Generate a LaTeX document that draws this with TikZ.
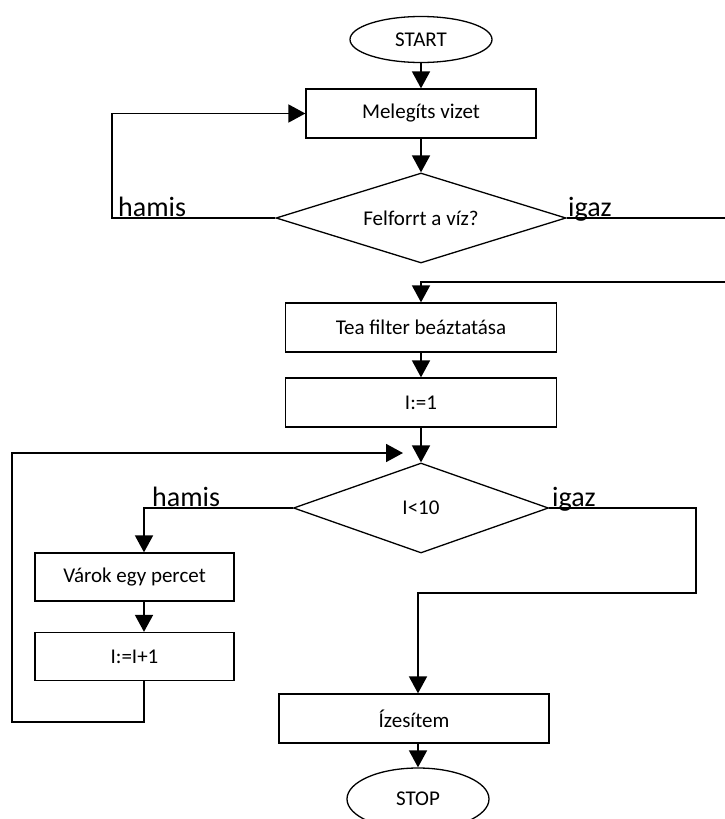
\documentclass[tikz,border=0pt]{standalone}
\usepackage{fontspec}
\setmainfont{Carlito}
\usetikzlibrary{shapes.geometric,arrows.meta}

\tikzset{
  proc/.style={draw, line width=1.3pt, rectangle, inner sep=0pt,
    font=\fontsize{21}{25}\selectfont},
  term/.style={draw, line width=1.3pt, ellipse, inner sep=0pt,
    font=\fontsize{21}{25}\selectfont},
  dec/.style={draw, line width=1.3pt, diamond, inner sep=0pt, aspect=3,
    font=\fontsize{21}{25}\selectfont},
  flow/.style={line width=1.8pt, -{Triangle[length=17pt,width=18pt]}},
  plain/.style={line width=1.8pt},
  lbl/.style={anchor=base west, inner sep=0pt, font=\fontsize{28}{32}\selectfont}
}

\begin{document}
\begin{tikzpicture}[x=1pt, y=-1pt]
  \useasboundingbox (0,0) rectangle (724,819);

  % first part: heat water until it boils
  \node[term, minimum width=142pt, minimum height=46pt] (start) at (421,39.5) {START};
  \node[proc, minimum width=230pt, minimum height=49pt] (heat) at (421,113.5) {Melegíts vizet};
  \node[dec, minimum width=290pt, minimum height=90pt] (boil) at (421,218) {Felforrt a víz?};

  % second part: steeping loop
  \node[proc, minimum width=271pt, minimum height=49pt] (tea) at (421,327.5) {Tea filter beáztatása};
  \node[proc, minimum width=271pt, minimum height=49pt] (init) at (421,402.5) {I:=1};
  \node[dec, minimum width=255pt, minimum height=90pt] (cond) at (421,508) {I<10};
  \node[proc, minimum width=199pt, minimum height=48pt] (wait) at (134.5,577) {Várok egy percet};
  \node[proc, minimum width=199pt, minimum height=48pt] (inc) at (134.5,656.5) {I:=I+1};
  \node[proc, minimum width=270pt, minimum height=49pt] (flav) at (414,718.5) {Ízesítem};
  \node[term, minimum width=142pt, minimum height=62pt] (stop) at (418,799) {STOP};

  % helper points for the elbow connectors
  \coordinate (hl) at (112,218);
  \coordinate (eA) at (728,218);
  \coordinate (eB) at (728,282);
  \coordinate (lpA) at (144,508);
  \coordinate (lpB) at (144,722);
  \coordinate (lpC) at (12,722);
  \coordinate (lpD) at (403,453);
  \coordinate (rb) at (696,508);
  \coordinate (jn) at (418,593);

  % straight flow
  \draw[flow] (start) -- (heat);
  \draw[flow] (heat) -- (boil.north);
  \draw[flow] (tea) -- (init);
  \draw[flow] (init) -- (cond.north);
  \draw[flow] (flav.south -| jn) -- (stop.north);

  % boiling check
  \draw[flow] (boil.west) -- (hl) |- (heat.west);
  \draw[plain] (boil.east) -- (eA);
  \draw[flow] (eB) -| (tea.north);
  \node[lbl] (hamisA) at (118,216) {hamis};
  \node[lbl] (igazA) at (568,216) {igaz};

  % counting loop
  \draw[flow] (cond.west) -- (lpA) -- (lpA |- wait.north);
  \draw[flow] (wait.south -| lpA) -- (inc.north -| lpA);
  \draw[flow] (inc.south -| lpA) -- (lpB) -- (lpC) |- (lpD);
  \draw[flow] (cond.east) -- (rb) |- (jn) -- (jn |- flav.north);
  \node[lbl] (hamisB) at (152,506) {hamis};
  \node[lbl] (igazB) at (552,506) {igaz};
\end{tikzpicture}
\end{document}
